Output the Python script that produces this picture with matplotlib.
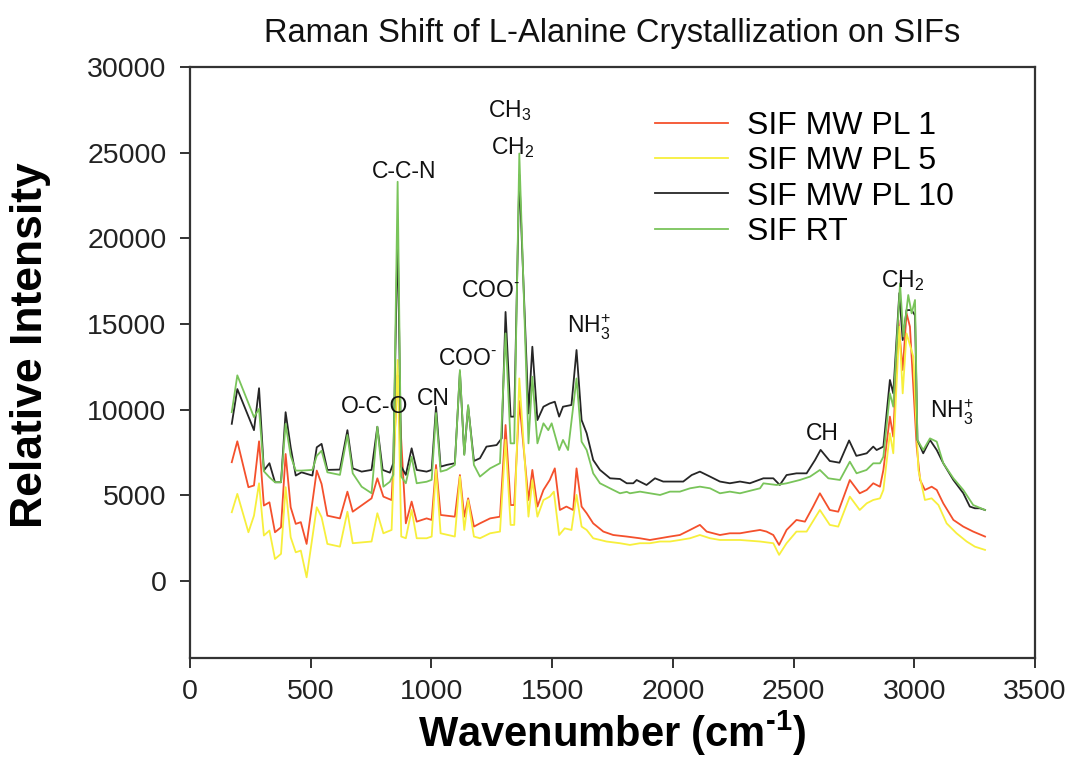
import matplotlib
matplotlib.use("Agg")
import matplotlib.pyplot as plt
import numpy as np

plt.rcParams['font.family'] = ['Liberation Sans', 'DejaVu Sans']
plt.rcParams['mathtext.fontset'] = 'custom'
plt.rcParams['mathtext.rm'] = 'Liberation Sans'
plt.rcParams['mathtext.it'] = 'Liberation Sans'
plt.rcParams['mathtext.bf'] = 'Liberation Sans:bold'
plt.rcParams['mathtext.default'] = 'regular'

# ---------------- data ----------------
wn_pl10 = [173, 196, 265, 286, 306, 329, 352, 377, 396, 417, 438, 462, 507, 525, 545, 569, 621, 652, 674, 711,
           752, 776, 798, 828, 842, 860, 875, 894, 918, 939, 980, 1001, 1019, 1038, 1063, 1097, 1118, 1136, 1152,
           1176, 1201, 1228, 1270, 1291, 1307, 1328, 1343, 1364, 1402, 1418, 1439, 1464, 1490, 1511, 1529, 1545,
           1580, 1601, 1622, 1643, 1670, 1698, 1740, 1781, 1809, 1836, 1850, 1891, 1926, 1960, 2002, 2043, 2078,
           2112, 2154, 2195, 2236, 2278, 2319, 2375, 2416, 2443, 2471, 2512, 2554, 2589, 2612, 2650, 2690, 2730,
           2760, 2775, 2803, 2830, 2844, 2872, 2899, 2913, 2938, 2952, 2968, 2989, 3003, 3013, 3037, 3065, 3093,
           3120, 3162, 3203, 3230, 3251, 3272, 3293]
int_pl10 = [9170, 11200, 8800, 11250, 6450, 6870, 5760, 5760, 9850, 7800, 6150, 6340, 6150, 7800, 8000, 6480, 6500,
            8800, 6570, 6380, 6480, 9000, 6480, 6320, 6870, 20400, 6670, 6190, 7740, 6480, 6380, 6480, 10170, 6670,
            6770, 6870, 12200, 7400, 10200, 7000, 7160, 7840, 7930, 8320, 15700, 9590, 9590, 23700, 9780, 13670,
            9390, 10170, 10360, 10460, 9590, 10170, 10270, 13480, 9390, 8620, 7060, 6480, 5990, 5950, 5700, 5700,
            5890, 5600, 5990, 5800, 5800, 5800, 6180, 6380, 6090, 5800, 5700, 5800, 5700, 5990, 5990, 5600, 6180,
            6280, 6280, 7060, 7650, 7000, 6900, 8200, 7300, 7350, 7450, 7840, 7640, 7840, 11730, 10950, 16800,
            14060, 15810, 15810, 15500, 8230, 7450, 8230, 7640, 6870, 5890, 5120, 4340, 4240, 4240, 4140]

wn_rt = [173, 196, 265, 286, 306, 329, 352, 377, 396, 417, 438, 462, 507, 525, 545, 569, 621, 652, 674, 711, 752,
         776, 801, 828, 842, 860, 875, 894, 918, 939, 980, 1001, 1019, 1038, 1063, 1097, 1118, 1136, 1152, 1176,
         1201, 1243, 1284, 1307, 1328, 1343, 1364, 1402, 1418, 1439, 1464, 1484, 1498, 1529, 1545, 1566, 1601,
         1622, 1643, 1670, 1698, 1753, 1781, 1809, 1822, 1864, 1905, 1947, 1988, 2029, 2071, 2112, 2154, 2195,
         2236, 2278, 2333, 2361, 2375, 2430, 2471, 2526, 2568, 2609, 2644, 2692, 2733, 2761, 2802, 2830, 2858,
         2872, 2899, 2913, 2941, 2955, 2975, 2989, 3003, 3013, 3037, 3065, 3093, 3120, 3162, 3203, 3244, 3293]
int_rt = [9850, 12000, 9560, 10040, 6400, 6050, 5760, 5760, 9170, 7300, 6440, 6440, 6480, 7300, 7600, 6340, 6190,
          8520, 6280, 5500, 5120, 9000, 5500, 5790, 6200, 23300, 6090, 5700, 7250, 5700, 5790, 5900, 9800, 6380,
          6480, 6770, 12310, 7350, 10270, 6770, 6090, 6570, 6870, 14450, 8030, 8030, 24950, 8030, 11920, 8030,
          9200, 8800, 9200, 7640, 8230, 7640, 11820, 8130, 7640, 6280, 5700, 5310, 5115, 5200, 5115, 5212, 5115,
          5017, 5212, 5212, 5406, 5503, 5406, 5115, 5212, 5115, 5309, 5406, 5697, 5600, 5697, 5892, 6087, 6476,
          5990, 5892, 6960, 6282, 6476, 6865, 6865, 7253, 10950, 10170, 17370, 14260, 16690, 15620, 16400, 8230,
          7640, 8320, 8130, 6870, 5990, 5310, 4430, 4140]

wn_pl1 = [173, 196, 242, 265, 286, 306, 329, 352, 377, 396, 417, 438, 459, 483, 525, 545, 569, 621, 652, 674, 752,
          776, 801, 835, 860, 894, 918, 939, 980, 1001, 1019, 1038, 1097, 1118, 1136, 1152, 1176, 1201, 1243, 1284,
          1307, 1328, 1343, 1364, 1402, 1418, 1439, 1464, 1490, 1511, 1532, 1559, 1587, 1601, 1622, 1643, 1670,
          1712, 1753, 1809, 1863, 1905, 1947, 1988, 2029, 2071, 2112, 2140, 2195, 2236, 2278, 2319, 2361, 2388,
          2416, 2440, 2471, 2512, 2547, 2581, 2609, 2650, 2685, 2733, 2774, 2803, 2830, 2858, 2872, 2899, 2913,
          2934, 2952, 2968, 2982, 3010, 3024, 3044, 3072, 3093, 3120, 3162, 3203, 3244, 3293]
int_pl1 = [6930, 8150, 5470, 5570, 8150, 4400, 4590, 2840, 3130, 7410, 4300, 3330, 3430, 2160, 6440, 5660, 3810,
           3650, 5210, 4040, 4820, 5990, 4920, 4720, 12000, 3360, 4630, 3460, 3650, 3560, 6770, 3850, 3750, 6180,
           3750, 4820, 3170, 3360, 3650, 3750, 9100, 4430, 4430, 10500, 4720, 6480, 4340, 5310, 5890, 6570, 4140,
           4340, 4140, 6570, 4340, 3950, 3360, 2880, 2680, 2590, 2490, 2390, 2490, 2590, 2680, 2975, 3270, 2880,
           2680, 2780, 2780, 2880, 2975, 2880, 2680, 2100, 2975, 3560, 3460, 4340, 5115, 4140, 4040, 5890, 5115,
           5310, 5700, 5500, 6480, 9590, 8420, 15230, 12310, 15620, 14840, 7840, 5890, 5310, 5500, 5310, 4530,
           3560, 3170, 2880, 2590]

wn_pl5 = [173, 196, 242, 265, 286, 306, 329, 352, 377, 396, 417, 438, 459, 483, 525, 545, 569, 621, 652, 674, 752,
          776, 801, 835, 860, 875, 894, 918, 939, 980, 1001, 1019, 1038, 1097, 1118, 1136, 1152, 1176, 1201, 1243,
          1284, 1307, 1328, 1343, 1364, 1402, 1418, 1439, 1464, 1490, 1507, 1529, 1552, 1580, 1601, 1622, 1643,
          1670, 1725, 1781, 1822, 1864, 1905, 1947, 1988, 2029, 2071, 2112, 2154, 2195, 2278, 2361, 2416, 2440,
          2471, 2512, 2554, 2609, 2650, 2685, 2733, 2774, 2803, 2830, 2858, 2872, 2899, 2913, 2938, 2952, 2968,
          2996, 3017, 3044, 3072, 3100, 3134, 3175, 3217, 3251, 3293]
int_pl5 = [4010, 5080, 2840, 3810, 5700, 2650, 2940, 1280, 1580, 5470, 2550, 1670, 1770, 210, 4300, 3720, 2160,
           2000, 4040, 2200, 2300, 3950, 2780, 2975, 12900, 2590, 2490, 4140, 2490, 2490, 2590, 6500, 2780, 2590,
           6090, 2975, 4720, 2590, 2490, 2780, 2880, 8230, 3270, 3270, 11820, 3750, 5890, 3750, 4720, 4920, 5210,
           2680, 3070, 2975, 5020, 3170, 2975, 2490, 2300, 2200, 2100, 2200, 2200, 2300, 2300, 2390, 2490, 2680,
           2490, 2390, 2390, 2300, 2200, 1520, 2200, 2880, 2880, 4140, 3270, 3170, 4920, 4140, 4530, 4725, 4820,
           5310, 8620, 7450, 14840, 10950, 14450, 13090, 6480, 4725, 4820, 4430, 3360, 2780, 2300, 2000, 1810]

series_labels = ['SIF MW PL 1', 'SIF MW PL 5', 'SIF MW PL 10', 'SIF RT']
series_colors = ['#f4502c', '#f7ef3c', '#262626', '#79c45a']

annot_text = ['C-C-N', 'O-C-O', 'CN', 'COO$^{\u2010}$', 'COO$^{\u2010}$', 'CH$_3$', 'CH$_2$', 'NH$_3^{+}$', 'CH',
              'CH$_2$', 'NH$_3^{+}$']
annot_x = [886, 766, 1006, 1148, 1243, 1325, 1338, 1653, 2618, 2953, 3156]
annot_y = [23900, 10210, 10620, 13010, 16980, 27480, 25320, 14820, 8630, 17560, 9860]

title_text = 'Raman Shift of L-Alanine Crystallization on SIFs'
xticks = [0, 500, 1000, 1500, 2000, 2500, 3000, 3500]
yticks = [0, 5000, 10000, 15000, 20000, 25000, 30000]

# ---------------- figure ----------------
fig = plt.figure(figsize=(10.79, 7.77), dpi=100)
ax = fig.add_axes([190/1079, 1-658/777, 845/1079, 591/777])

xs = [wn_pl1, wn_pl5, wn_pl10, wn_rt]
ys = [int_pl1, int_pl5, int_pl10, int_rt]
for x, y, lab, col in zip(xs, ys, series_labels, series_colors):
    ax.plot(x, y, color=col, lw=1.3, label=lab)

for t, x, y in zip(annot_text, annot_x, annot_y):
    ax.text(x, y, t, ha='center', va='center', fontsize=16.5, color='#111111')

ax.set_xlim(0, 3500)
ax.set_ylim(-4500, 30000)
ax.set_xticks(xticks)
ax.set_yticks(yticks)
ax.tick_params(axis='both', direction='out', length=7, width=1.3, labelsize=20.5, colors='#222222')
ax.tick_params(axis='y', pad=10)
ax.tick_params(axis='x', pad=8)
for s in ax.spines.values():
    s.set_linewidth(1.6)
    s.set_color('#333333')

ax.set_title(title_text, fontsize=23.5, pad=18, color='#111111')
ax.set_xlabel('Wavenumber (cm$^{\\mathbf{\u20101}}$)', fontsize=30, fontweight='bold')
ax.set_ylabel('Relative Intensity', fontsize=32, fontweight='bold')
ax.xaxis.set_label_coords(0.5, -0.085)
ax.yaxis.set_label_coords(-0.165, 0.53)

leg = ax.legend(loc='upper left', bbox_to_anchor=(0.55, 0.926), frameon=False, fontsize=23,
                handlelength=2.3, handletextpad=0.6, labelspacing=0.17, borderpad=0, borderaxespad=0)

fig.savefig('out.png', dpi=100)
